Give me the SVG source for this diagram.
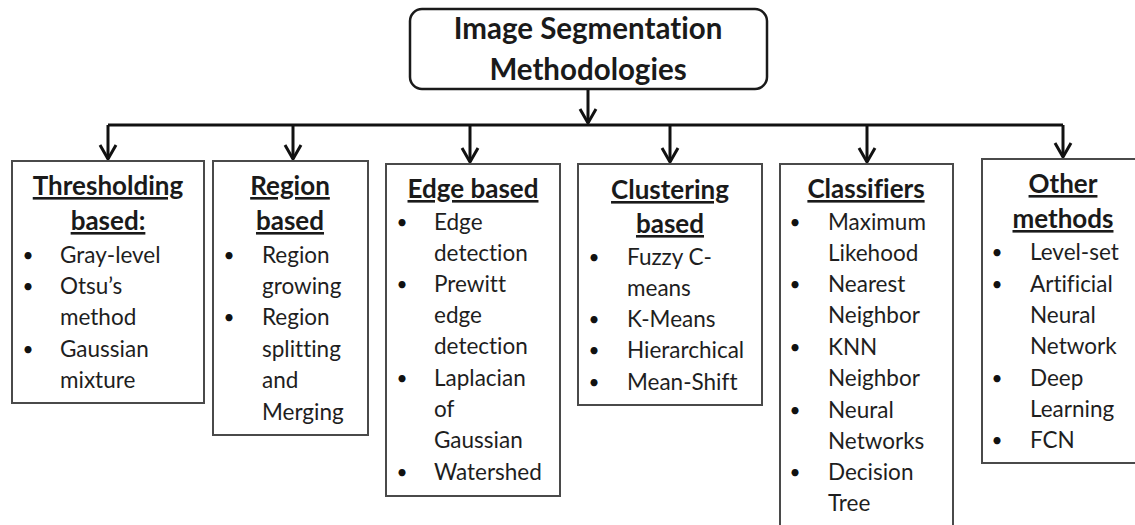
<svg xmlns="http://www.w3.org/2000/svg" width="1135" height="525" viewBox="0 0 1135 525">
  <style>
    text { font-variant-ligatures: none; }
    .box { fill: #ffffff; stroke: #4a4a4a; stroke-width: 2; }
    .root { fill: #ffffff; stroke: #1a1a1a; stroke-width: 2.5; }
    .wire { fill: none; stroke: #111111; stroke-width: 3; }
    .title { font-family: Lato, "Liberation Sans", sans-serif; font-weight: bold; font-size: 29.5px; fill: #1a1a1a; text-anchor: middle; }
    .head { font-family: Lato, "Liberation Sans", sans-serif; font-weight: bold; font-size: 26px; fill: #1a1a1a; text-anchor: middle; text-decoration: underline; }
    .item { font-family: Lato, "Liberation Sans", sans-serif; font-size: 22.5px; fill: #1e1e1e; }
    .dot { font-family: Lato, "Liberation Sans", sans-serif; font-size: 19px; fill: #111111; text-anchor: middle; }
  </style>
  <defs>
    <marker id="arrow" viewBox="-16 -10 20 20" refX="0" refY="0" markerWidth="20" markerHeight="20" markerUnits="userSpaceOnUse" orient="auto">
      <path d="M -14 -8 L 0 0 L -14 8" fill="none" stroke="#111111" stroke-width="3"/>
    </marker>
  </defs>

  <rect width="1135" height="525" fill="#ffffff"/>

  <!-- connectors -->
  <g id="connectors">
    <line class="wire" x1="588" y1="89" x2="588" y2="123" marker-end="url(#arrow)"/>
    <polyline class="wire" points="108,125 1063,125"/>
    <line class="wire" x1="108" y1="125" x2="108" y2="159" marker-end="url(#arrow)"/>
    <line class="wire" x1="293" y1="125" x2="293" y2="159" marker-end="url(#arrow)"/>
    <line class="wire" x1="470" y1="125" x2="470" y2="162" marker-end="url(#arrow)"/>
    <line class="wire" x1="670" y1="125" x2="670" y2="162" marker-end="url(#arrow)"/>
    <line class="wire" x1="867" y1="125" x2="867" y2="162" marker-end="url(#arrow)"/>
    <line class="wire" x1="1063" y1="125" x2="1063" y2="157" marker-end="url(#arrow)"/>
  </g>

  <!-- root node -->
  <g id="root">
    <rect class="root" x="410" y="9" width="357" height="80" rx="12" ry="12"/>
    <text class="title" x="588" y="39">Image Segmentation</text>
    <text class="title" x="588" y="80">Methodologies</text>
  </g>

  <!-- thresholding -->
  <g id="thresholding">
    <rect class="box" x="12" y="161" width="192" height="242"/>
    <text class="head" x="108" y="195">Thresholding</text>
    <text class="head" x="108" y="230">based:</text>
    <g class="item">
      <text class="dot" x="28" y="262">•</text><text x="60" y="263">Gray-level</text>
      <text class="dot" x="28" y="293">•</text><text x="60" y="294">Otsu’s</text>
      <text x="60" y="325">method</text>
      <text class="dot" x="28" y="356">•</text><text x="60" y="357">Gaussian</text>
      <text x="60" y="388">mixture</text>
    </g>
  </g>

  <!-- region -->
  <g id="region">
    <rect class="box" x="213" y="161" width="155" height="274"/>
    <text class="head" x="290" y="195">Region</text>
    <text class="head" x="290" y="230">based</text>
    <g class="item">
      <text class="dot" x="229" y="262">•</text><text x="262" y="263">Region</text>
      <text x="262" y="294">growing</text>
      <text class="dot" x="229" y="324">•</text><text x="262" y="325">Region</text>
      <text x="262" y="357">splitting</text>
      <text x="262" y="388">and</text>
      <text x="262" y="420">Merging</text>
    </g>
  </g>

  <!-- edge -->
  <g id="edge">
    <rect class="box" x="386" y="164" width="174" height="332"/>
    <text class="head" x="473" y="198">Edge based</text>
    <g class="item">
      <text class="dot" x="402" y="229">•</text><text x="434" y="230">Edge</text>
      <text x="434" y="261">detection</text>
      <text class="dot" x="402" y="291">•</text><text x="434" y="292">Prewitt</text>
      <text x="434" y="323">edge</text>
      <text x="434" y="354">detection</text>
      <text class="dot" x="402" y="385">•</text><text x="434" y="386">Laplacian</text>
      <text x="434" y="417">of</text>
      <text x="434" y="448">Gaussian</text>
      <text class="dot" x="402" y="479">•</text><text x="434" y="480">Watershed</text>
    </g>
  </g>

  <!-- clustering -->
  <g id="clustering">
    <rect class="box" x="578" y="164" width="184" height="241"/>
    <text class="head" x="670" y="199">Clustering</text>
    <text class="head" x="670" y="233">based</text>
    <g class="item">
      <text class="dot" x="594" y="264">•</text><text x="627" y="265">Fuzzy C-</text>
      <text x="627" y="296">means</text>
      <text class="dot" x="594" y="326">•</text><text x="627" y="327">K-Means</text>
      <text class="dot" x="594" y="357">•</text><text x="627" y="358">Hierarchical</text>
      <text class="dot" x="594" y="389">•</text><text x="627" y="390">Mean-Shift</text>
    </g>
  </g>

  <!-- classifiers -->
  <g id="classifiers">
    <rect class="box" x="780" y="164" width="173" height="380"/>
    <text class="head" x="866" y="198">Classifiers</text>
    <g class="item">
      <text class="dot" x="795" y="229">•</text><text x="828" y="230">Maximum</text>
      <text x="828" y="261">Likehood</text>
      <text class="dot" x="795" y="291">•</text><text x="828" y="292">Nearest</text>
      <text x="828" y="323">Neighbor</text>
      <text class="dot" x="795" y="354">•</text><text x="828" y="355">KNN</text>
      <text x="828" y="386">Neighbor</text>
      <text class="dot" x="795" y="417">•</text><text x="828" y="418">Neural</text>
      <text x="828" y="449">Networks</text>
      <text class="dot" x="795" y="479">•</text><text x="828" y="480">Decision</text>
      <text x="828" y="511">Tree</text>
    </g>
  </g>

  <!-- other methods -->
  <g id="other">
    <rect class="box" x="982" y="159" width="180" height="304"/>
    <text class="head" x="1063" y="193">Other</text>
    <text class="head" x="1063" y="228">methods</text>
    <g class="item">
      <text class="dot" x="997" y="259">•</text><text x="1030" y="260">Level-set</text>
      <text class="dot" x="997" y="291">•</text><text x="1030" y="292">Artificial</text>
      <text x="1030" y="323">Neural</text>
      <text x="1030" y="354">Network</text>
      <text class="dot" x="997" y="385">•</text><text x="1030" y="386">Deep</text>
      <text x="1030" y="417">Learning</text>
      <text class="dot" x="997" y="447">•</text><text x="1030" y="448">FCN</text>
    </g>
  </g>
</svg>
